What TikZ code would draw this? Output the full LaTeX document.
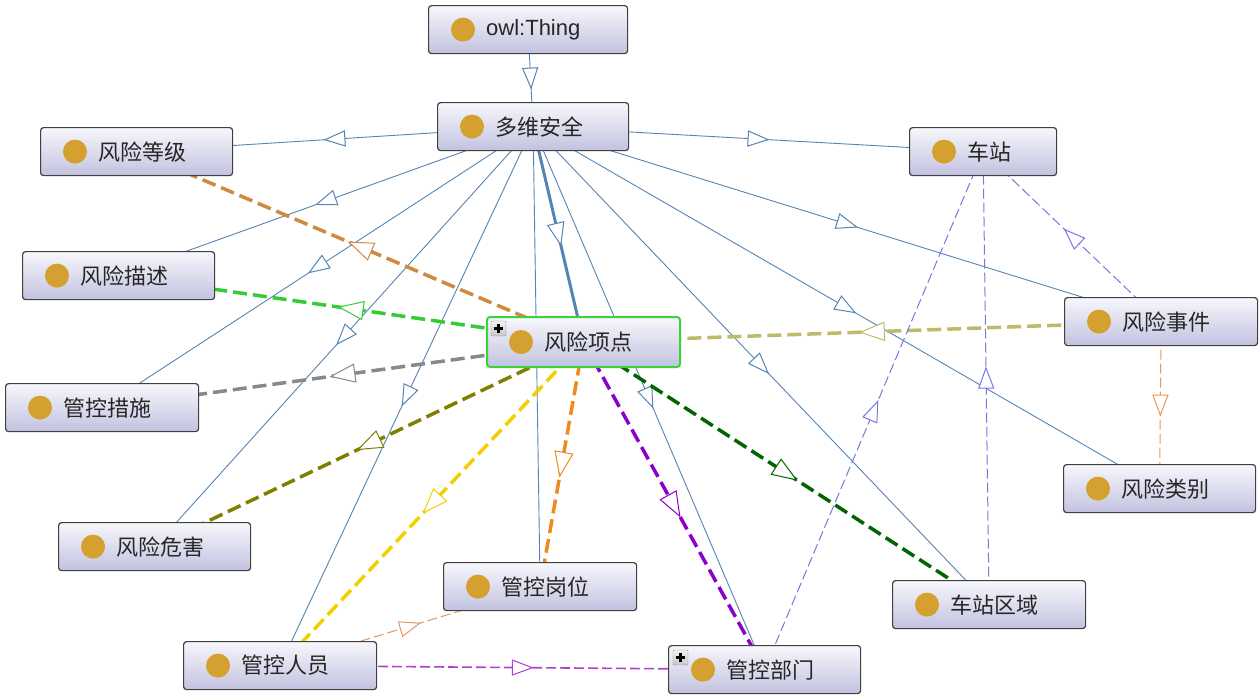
\documentclass[tikz,border=0pt]{standalone}
\usepackage{fontspec}
\setmainfont{Liberation Sans}
\newfontfamily\cjk{Noto Sans CJK SC}
\usetikzlibrary{decorations.markings,calc}
\pgfdeclarelayer{bg}
\pgfsetlayers{bg,main}
\definecolor{boxtop}{HTML}{F7F7FC}
\definecolor{boxbot}{HTML}{C2C2E0}
\definecolor{dotc}{HTML}{D4A030}
\definecolor{subc}{HTML}{5585B5}
\definecolor{cbrown}{HTML}{D08A40}
\definecolor{cgreen}{HTML}{33CC33}
\definecolor{cgray}{HTML}{888888}
\definecolor{colive}{HTML}{808000}
\definecolor{cyellow}{HTML}{F2D000}
\definecolor{corange}{HTML}{F08A20}
\definecolor{cpurple}{HTML}{8A00CC}
\definecolor{cdgreen}{HTML}{006400}
\definecolor{ckhaki}{HTML}{BDBA6A}
\definecolor{clav}{HTML}{7878E0}
\definecolor{corth}{HTML}{E8965A}
\definecolor{cpurth}{HTML}{B040D0}
\definecolor{cframe}{HTML}{3CD23C}
\tikzset{
  clsbox/.style={rectangle, rounded corners=3pt, draw=black!75, line width=1.2pt,
    top color=boxtop, bottom color=boxbot, minimum height=48pt, inner sep=0pt},
  lbl/.style={anchor=west, inner sep=0pt, text=black!85, font=\fontsize{22}{24}\selectfont},
  mid/.style 2 args={postaction={decorate}, decoration={markings,
    mark=at position 0.5 with {\draw[solid, line width=1pt, draw=#1, fill=white]
      (#2,0) -- (-#2,0.75*#2) -- (-#2,-0.75*#2) -- cycle;}}},
  subline/.style={draw=subc, line width=0.9pt, mid={subc}{10}},
  subthick/.style={draw=subc, line width=3pt, mid={subc}{11}},
  objthick/.style={draw=#1, line width=3.5pt, dash pattern=on 14pt off 6pt, mid={#1}{12}},
  objthin/.style={draw=#1, line width=1pt, dash pattern=on 10pt off 4pt, mid={#1}{10}},
}
\newcommand\cls[5]{%
  \node[clsbox, minimum width=#4pt, anchor=north west] (#1) at (#2,#3) {};
  \fill[dotc] ($(#1.west)+(35,0)$) circle (12);
  \node[lbl] (#1t) at ($(#1.west)+(58,0)$) {#5};
}
\newcommand\plusicon[1]{%
  \draw[gray!80, top color=gray!10, bottom color=gray!45, rounded corners=1pt] ($(#1.north west)+(5,5)$) rectangle ++(15,15);
  \draw[black, line width=2.4pt] ($(#1.north west)+(8,12.5)$) -- ++(9,0)
    ($(#1.north west)+(12.5,8)$) -- ++(0,9);
}
\begin{document}
\begin{tikzpicture}[x=1pt, y=-1pt]
\useasboundingbox (0,0) rectangle (1260,699);
% classes
\cls{thing}{428}{5}{199}{owl:Thing}
\cls{dw}{437}{102}{191}{\cjk 多维安全}
\cls{dj}{40}{127}{192}{\cjk 风险等级}
\cls{cz}{909}{127}{147}{\cjk 车站}
\cls{ms}{22}{251}{192}{\cjk 风险描述}
\node[clsbox, minimum width=193pt, minimum height=50pt, anchor=north west, draw=cframe, line width=2pt] (xd) at (486,316) {};
\fill[dotc] ($(xd.west)+(35,0)$) circle (12);
\node[lbl] (xdt) at ($(xd.west)+(58,0)$) {\cjk 风险项点};
\plusicon{xd}
\cls{sj}{1064}{297}{193}{\cjk 风险事件}
\cls{cs}{5}{383}{193}{\cjk 管控措施}
\cls{lb}{1063}{464}{192}{\cjk 风险类别}
\cls{wh}{58}{522}{192}{\cjk 风险危害}
\cls{gw}{443}{562}{193}{\cjk 管控岗位}
\cls{qy}{892}{580}{193}{\cjk 车站区域}
\cls{ry}{183}{641}{193}{\cjk 管控人员}
\cls{bm}{668}{645}{192}{\cjk 管控部门}
\plusicon{bm}
% connectors
\begin{pgfonlayer}{bg}
\fill[white] (0,0) rectangle (1260,699);
\draw[subline] (thing.center) -- (dw.center);
\draw[subline] (dw.center) -- (dj.center);
\draw[subline] (dw.center) -- (cz.center);
\draw[subline] (dw.center) -- (ms.center);
\draw[subline] (dw.center) -- (sj.center);
\draw[subline] (dw.center) -- (cs.center);
\draw[subline] (dw.center) -- (lb.center);
\draw[subline] (dw.center) -- (wh.center);
\draw[subline] (dw.center) -- (gw.center);
\draw[subline] (dw.center) -- (qy.center);
\draw[subline] (dw.center) -- (ry.center);
\draw[subline] (dw.center) -- (bm.center);
\draw[subthick] (dw.center) -- (xd.center);
\draw[objthick=cbrown] (xd.center) -- (dj.center);
\draw[objthick=cgreen] (xd.center) -- (ms.center);
\draw[objthick=cgray] (xd.center) -- (cs.center);
\draw[objthick=colive] (xd.center) -- (wh.center);
\draw[objthick=cyellow] (xd.center) -- (ry.center);
\draw[objthick=corange] (xd.center) -- (gw.center);
\draw[objthick=cpurple] (xd.center) -- (bm.center);
\draw[objthick=cdgreen] (xd.center) -- (qy.center);
\draw[objthick=ckhaki] (sj.center) -- (xd.center);
\draw[objthin=clav] (sj.center) -- (cz.center);
\draw[objthin=clav] (qy.center) -- (cz.center);
\draw[objthin=clav] (bm.center) -- (cz.center);
\draw[objthin=corth] (sj.center) -- (lb.center);
\draw[objthin=corth] (ry.center) -- (gw.center);
\draw[objthin=cpurth, line width=1.6pt] (ry.center) -- (bm.center);
\end{pgfonlayer}
\end{tikzpicture}
\end{document}
